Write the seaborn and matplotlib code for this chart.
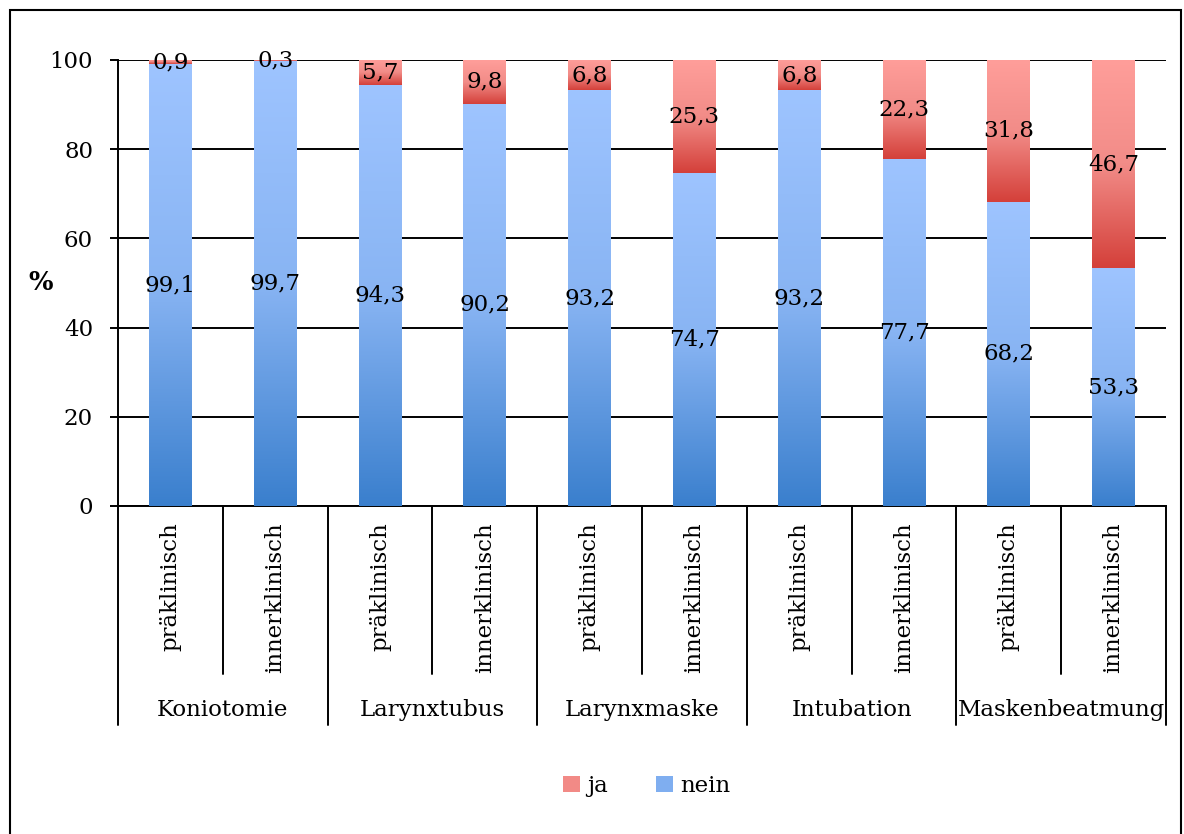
import matplotlib
matplotlib.use("Agg")
import matplotlib.pyplot as plt
import numpy as np
import pandas as pd
import seaborn as sns
from matplotlib.colors import LinearSegmentedColormap
from matplotlib.patches import Rectangle, Patch

groups = ["Koniotomie", "Larynxtubus", "Larynxmaske", "Intubation", "Maskenbeatmung"]
settings = ["präklinisch", "innerklinisch"]
ja = [0.9, 0.3, 5.7, 9.8, 6.8, 25.3, 6.8, 22.3, 31.8, 46.7]
nein = [99.1, 99.7, 94.3, 90.2, 93.2, 74.7, 93.2, 77.7, 68.2, 53.3]
yticks = [0, 20, 40, 60, 80, 100]

df = pd.DataFrame({
    "pos": list(range(len(ja))),
    "ja": ja,
    "nein": nein,
})
df["total"] = df["ja"] + df["nein"]

sns.set_theme(style="white")
plt.rcParams["font.family"] = ["DejaVu Serif"]
plt.rcParams["text.color"] = "black"
plt.rcParams["ytick.color"] = "black"
plt.rcParams["ytick.labelcolor"] = "black"
FS = 16.5

blue_cmap = LinearSegmentedColormap.from_list(
    "b", [(0.0, "#3A7FCD"), (0.5, "#88B4F3"), (1.0, "#9EC4FF")])
red_cmap = LinearSegmentedColormap.from_list(
    "r", [(0.0, "#D4403A"), (0.5, "#F28C88"), (1.0, "#FF9E9A")])

fig = plt.figure(figsize=(11.84, 8.34), dpi=100)
ax = fig.add_axes([118 / 1184, 1 - 506 / 834, (1166 - 118) / 1184, 446 / 834])

sns.barplot(data=df, x="pos", y="total", color="#EF807C", width=0.41, ax=ax,
            saturation=1, zorder=3)
sns.barplot(data=df, x="pos", y="nein", color="#86B2F2", width=0.41, ax=ax,
            saturation=1, zorder=3)

# replace flat fills by vertical gradients (per segment)
grad = np.linspace(0, 1, 256).reshape(-1, 1)
n = len(ja)
red_patches = ax.patches[:n]
blue_patches = ax.patches[n:2 * n]
for i in range(n):
    rp, bp = red_patches[i], blue_patches[i]
    x0, w = bp.get_x(), bp.get_width()
    ax.imshow(grad, cmap=blue_cmap, origin="lower", aspect="auto",
              extent=[x0, x0 + w, 0, nein[i]], zorder=3)
    ax.imshow(grad, cmap=red_cmap, origin="lower", aspect="auto",
              extent=[x0, x0 + w, nein[i], nein[i] + ja[i]], zorder=3)
    rp.set_visible(False)
    bp.set_visible(False)
    ax.text(i, nein[i] / 2, f"{nein[i]:.1f}".replace(".", ","),
            ha="center", va="center", fontsize=FS, zorder=5)
    ax.text(i, nein[i] + ja[i] / 2, f"{ja[i]:.1f}".replace(".", ","),
            ha="center", va="center", fontsize=FS, zorder=5)

ax.set_xlim(-0.5, n - 0.5)
ax.set_ylim(0, 100)
ax.set_yticks(yticks)
ax.set_yticklabels([str(t) for t in yticks], fontsize=FS)
ax.yaxis.grid(True, color="black", linewidth=1.4, zorder=0)
ax.set_axisbelow(True)
ax.tick_params(axis="y", length=6, width=1.4, pad=12, left=True, colors="black")
ax.tick_params(axis="x", length=0, labelbottom=False)
ax.set_xlabel("")
ax.set_ylabel("")
for s in ["top", "right"]:
    ax.spines[s].set_visible(False)
ax.spines["left"].set_color("black")
ax.spines["left"].set_linewidth(1.4)
ax.spines["bottom"].set_color("black")
ax.spines["bottom"].set_linewidth(1.4)

ax.text(-0.074, 0.5, "%", transform=ax.transAxes, fontsize=FS + 2, weight="bold",
        ha="center", va="center")

# two-level category axis
tr = ax.get_xaxis_transform()
for i in range(n):
    ax.text(i, -0.036, settings[i % 2], transform=tr, rotation=90,
            ha="center", va="top", fontsize=FS, clip_on=False)
for g, name in enumerate(groups):
    ax.text(2 * g + 0.5, -0.457, name, transform=tr, ha="center", va="center",
            fontsize=FS, clip_on=False)
    ax.plot([2 * g + 0.5, 2 * g + 0.5], [0, -0.377], transform=tr,
            color="black", linewidth=1.4, clip_on=False)
for b in range(len(groups) + 1):
    ax.plot([2 * b - 0.5, 2 * b - 0.5], [0, -0.491], transform=tr,
            color="black", linewidth=1.4, clip_on=False)

handles = [Patch(facecolor="#F28A86", edgecolor="none", label="ja"),
           Patch(facecolor="#7FAEF0", edgecolor="none", label="nein")]
fig.legend(handles=handles, loc="center", bbox_to_anchor=(0.546, 1 - 786 / 834),
           ncol=2, frameon=False, fontsize=FS, handlelength=0.75, handleheight=0.75,
           handletextpad=0.3, columnspacing=2.1)

fig.patches.append(Rectangle((10 / 1184, -0.01), 1171 / 1184, 1 - 10 / 834 + 0.01,
                             transform=fig.transFigure, fill=False,
                             edgecolor="black", linewidth=1.5))

fig.savefig("out.png", dpi=100)
